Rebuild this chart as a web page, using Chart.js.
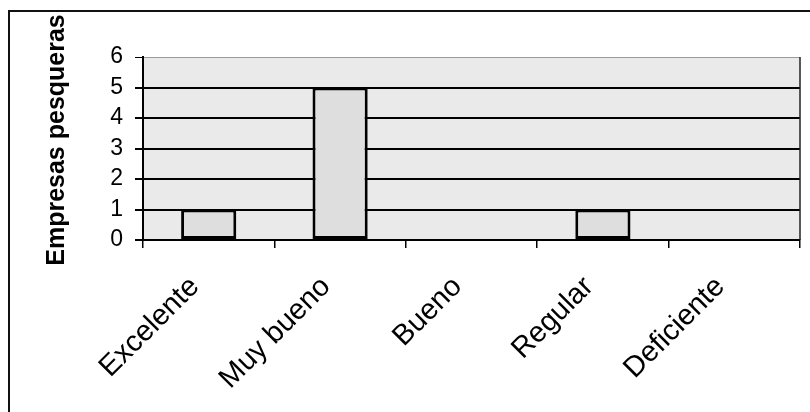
<!DOCTYPE html>
<html>
<head>
<meta charset="utf-8">
<script src="https://cdn.jsdelivr.net/npm/chart.js@4.4.1/dist/chart.umd.min.js"></script>
<style>
  html, body { margin: 0; padding: 0; background: #ffffff; }
  #wrap { width: 810px; height: 412px; position: relative; }
</style>
</head>
<body>
<div id="wrap"><canvas id="chart" width="810" height="412"></canvas></div>
<script>
// Valoración de las empresas pesqueras
const categories = ['Excelente', 'Muy bueno', 'Bueno', 'Regular', 'Deficiente'];
const empresas = [1, 5, 0, 1, 0];
const yTicks = [0, 1, 2, 3, 4, 5, 6];
const yTitle = 'Empresas pesqueras';

const FONT = '"Liberation Sans", Arial, sans-serif';

// Gray plot background, right edge of the plot, outer frame and the vertical axis title
const decor = {
  id: 'decor',
  beforeDraw(chart) {
    const { ctx, chartArea: a } = chart;
    ctx.save();
    ctx.fillStyle = '#eaeaea';
    ctx.fillRect(a.left, a.top, a.right - a.left, a.bottom - a.top);
    ctx.restore();
  },
  afterDraw(chart) {
    const { ctx, chartArea: a } = chart;
    ctx.save();
    ctx.strokeStyle = '#222';
    ctx.lineWidth = 1.5;
    ctx.beginPath();
    ctx.moveTo(a.right, a.top);
    ctx.lineTo(a.right, a.bottom);
    ctx.stroke();

    ctx.strokeStyle = '#111';
    ctx.lineWidth = 2;
    ctx.beginPath();
    ctx.moveTo(9, 412);
    ctx.lineTo(9, 11);
    ctx.lineTo(810, 11);
    ctx.stroke();

    ctx.translate(57, 140);
    ctx.rotate(-Math.PI / 2);
    ctx.fillStyle = '#000';
    ctx.font = 'bold 25px ' + FONT;
    ctx.textAlign = 'center';
    ctx.textBaseline = 'middle';
    ctx.fillText(yTitle, 0, 0);
    ctx.restore();
  }
};

new Chart(document.getElementById('chart'), {
  type: 'bar',
  data: {
    labels: categories,
    datasets: [{
      data: empresas,
      backgroundColor: '#dedede',
      borderColor: '#000',
      borderWidth: 3,
      borderSkipped: false,
      barPercentage: 0.42,
      categoryPercentage: 1.0
    }]
  },
  options: {
    responsive: false,
    animation: false,
    devicePixelRatio: 1,
    layout: { padding: { left: 0, top: 57, right: 10, bottom: 0 } },
    plugins: { legend: { display: false }, tooltip: { enabled: false } },
    scales: {
      x: {
        offset: true,
        afterFit(scale) { scale.height = 172; },
        grid: {
          offset: true,
          drawOnChartArea: false,
          drawTicks: true,
          tickLength: 8,
          color: '#000',
          lineWidth: 1.5
        },
        border: { display: true, color: '#000', width: 2 },
        ticks: {
          minRotation: 45,
          maxRotation: 45,
          autoSkip: false,
          padding: 22,
          labelOffset: -14,
          color: '#000',
          font: { family: FONT, size: 29 }
        }
      },
      y: {
        min: yTicks[0],
        max: yTicks[yTicks.length - 1],
        afterFit(scale) { scale.width = 143; },
        afterBuildTicks(scale) { scale.ticks = yTicks.map(v => ({ value: v })); },
        grid: {
          drawTicks: true,
          tickLength: 8,
          color: ctx => (ctx.tick && ctx.tick.value === 6 ? '#9a9a9a' : '#000'),
          tickColor: '#000',
          lineWidth: ctx => (ctx.tick && ctx.tick.value === 6 ? 1 : 2)
        },
        border: { display: true, color: '#000', width: 2 },
        ticks: {
          stepSize: 1,
          autoSkip: false,
          padding: 12,
          color: '#000',
          font: { family: FONT, size: 23 }
        }
      }
    }
  },
  plugins: [decor]
});
</script>
</body>
</html>
